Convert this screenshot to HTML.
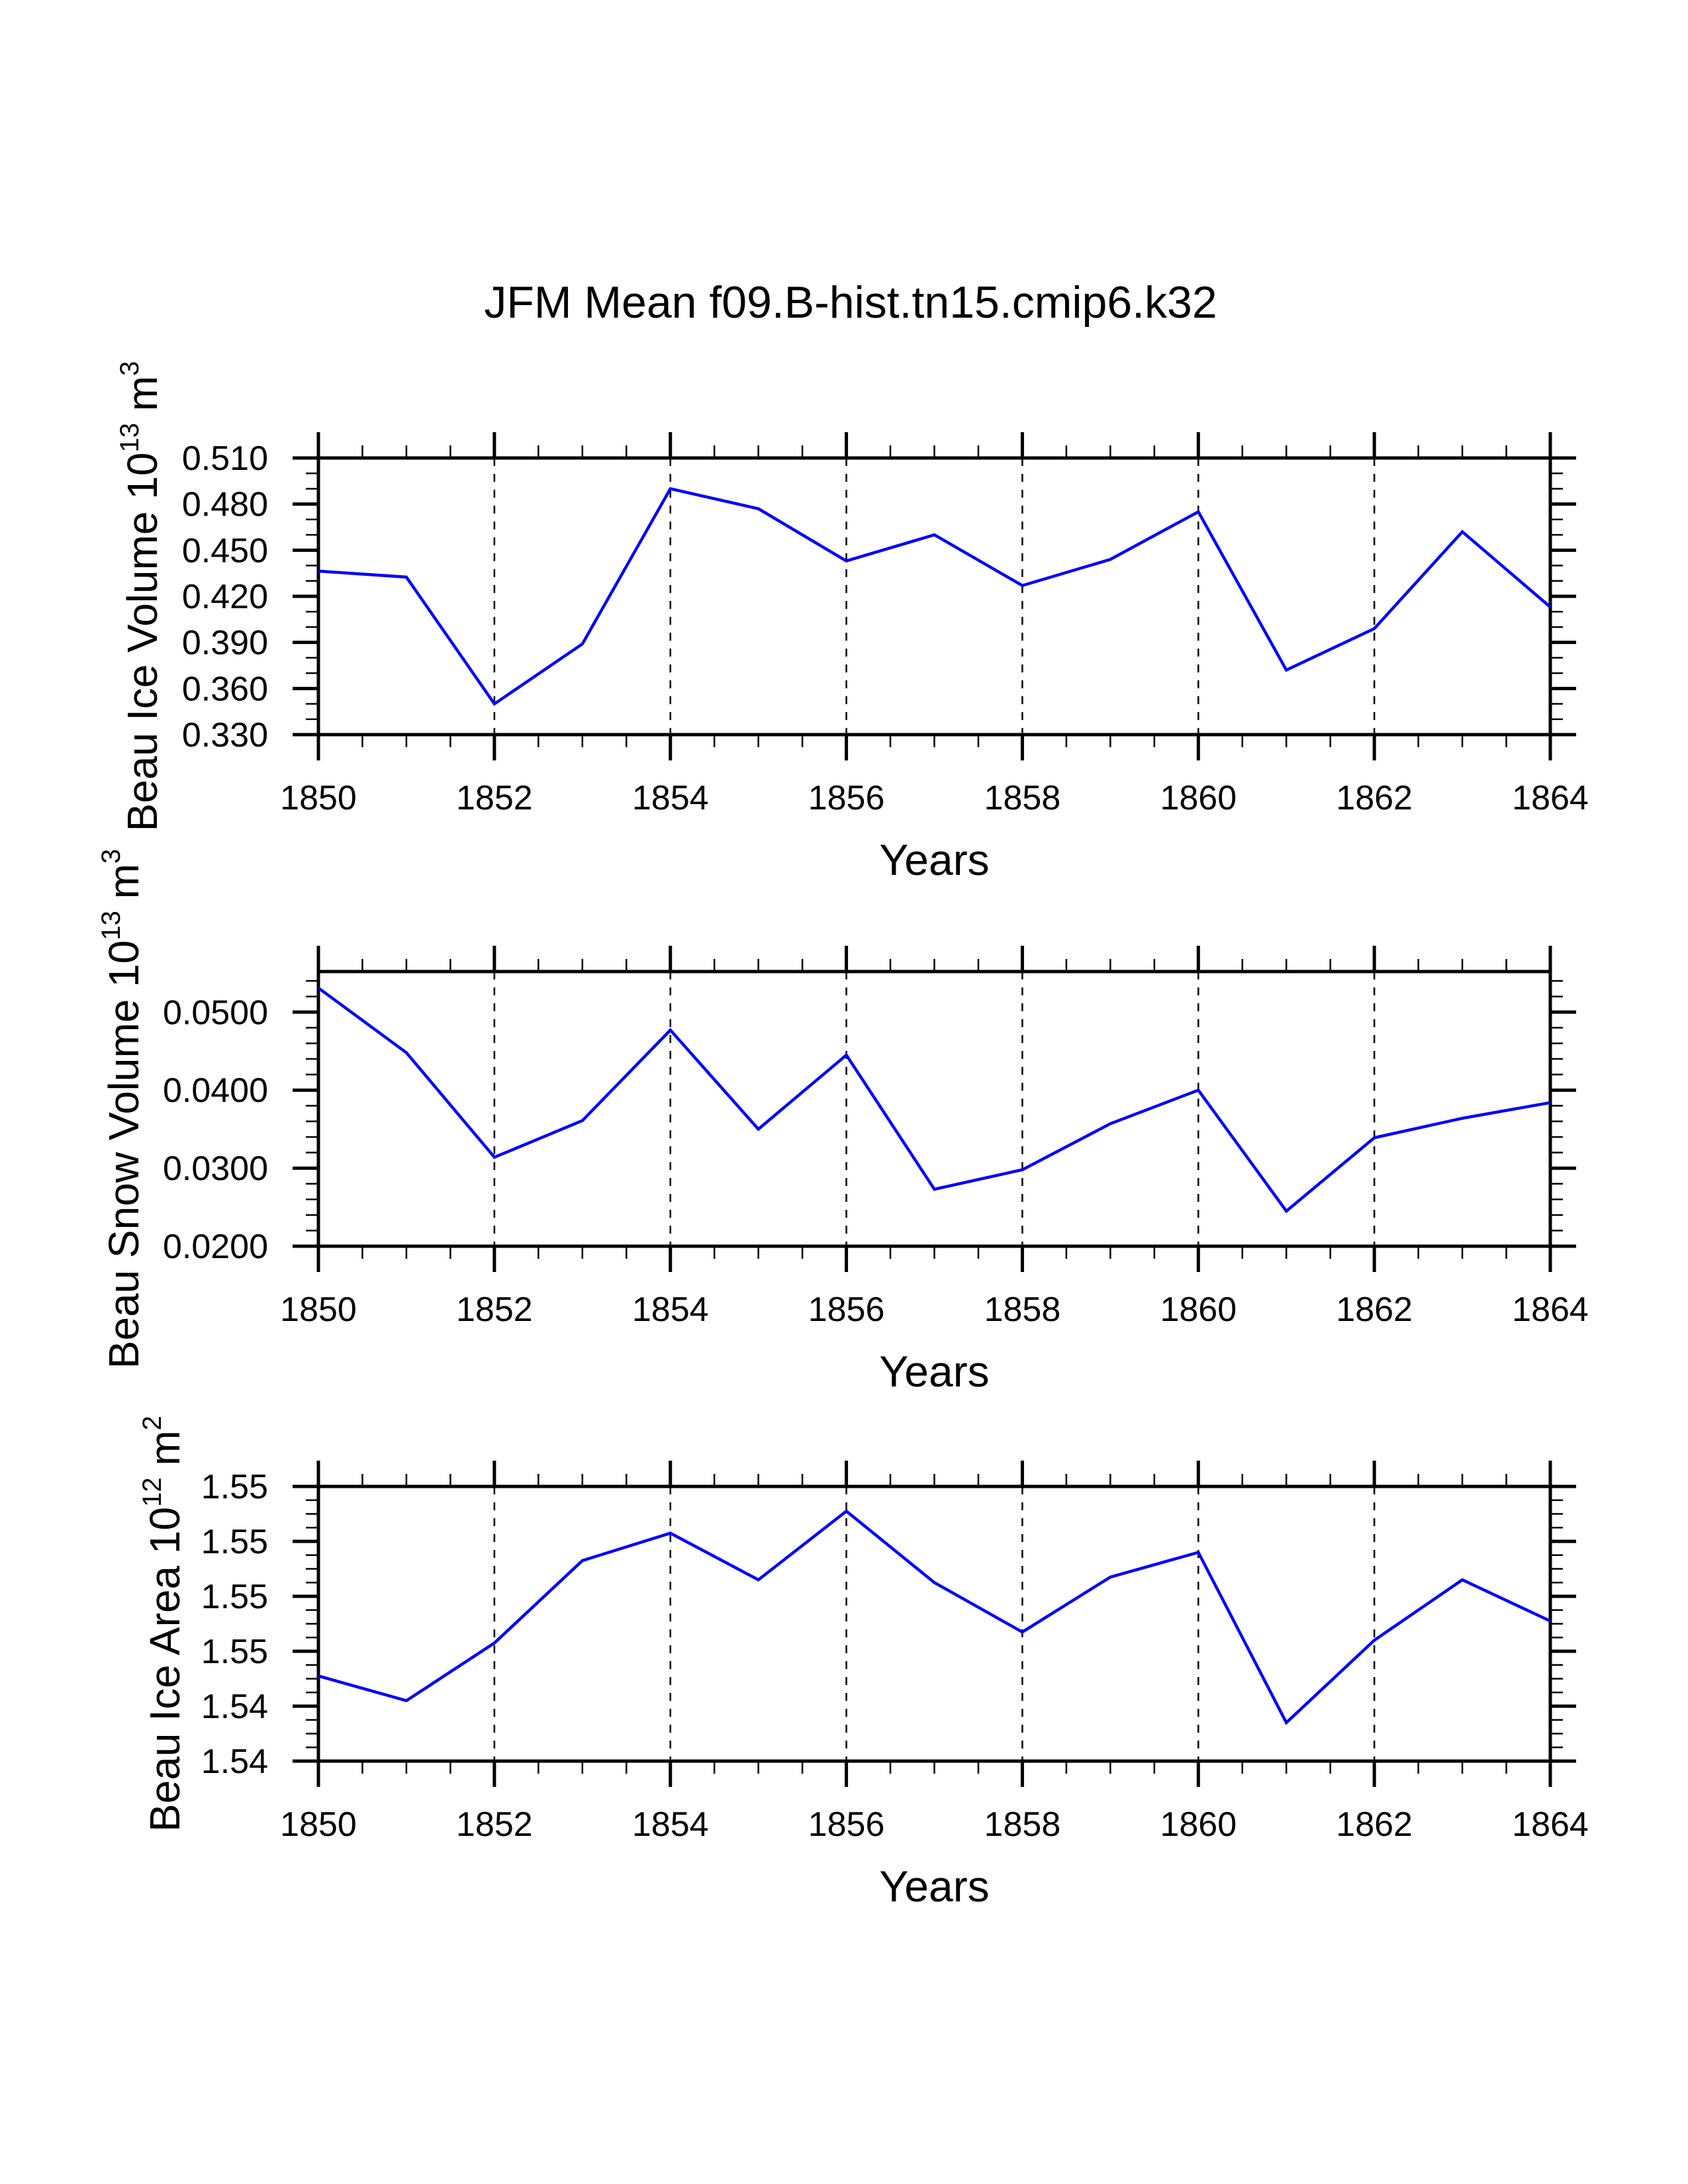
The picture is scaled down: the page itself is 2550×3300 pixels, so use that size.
<!DOCTYPE html>
<html><head><meta charset="utf-8"><style>
html,body{margin:0;padding:0;background:#fff;}
svg{display:block;font-family:"Liberation Sans",Arial,sans-serif;}
</style></head><body>
<svg id="chart" width="2550" height="3300" viewBox="0 0 2550 3300" xmlns="http://www.w3.org/2000/svg">
<rect width="2550" height="3300" fill="#fff"/>
<text x="1285" y="480" font-size="68" text-anchor="middle">JFM Mean f09.B-hist.tn15.cmip6.k32</text>
</svg>
<script>
const years = [1850,1851,1852,1853,1854,1855,1856,1857,1858,1859,1860,1861,1862,1863,1864];
const iceVolume = [0.4364,0.4325,0.350,0.389,0.490,0.477,0.443,0.460,0.427,0.444,0.475,0.372,0.399,0.462,0.413];
const snowVolume = [0.0531,0.0448,0.0314,0.0361,0.0477,0.0350,0.0445,0.0273,0.0298,0.0357,0.0400,0.0245,0.0339,0.0364,0.0384];
const iceArea = [1.5451,1.5442,1.5463,1.5493,1.5503,1.5486,1.5511,1.5485,1.5467,1.5487,1.5496,1.5434,1.5464,1.5486,1.5471];
const xTickYears = [1850,1852,1854,1856,1858,1860,1862,1864];
const iceVolTicks = [0.33,0.36,0.39,0.42,0.45,0.48,0.51];
const iceVolLabels = ["0.330","0.360","0.390","0.420","0.450","0.480","0.510"];
const snowTicks = [0.02,0.03,0.04,0.05];
const snowLabels = ["0.0200","0.0300","0.0400","0.0500"];
const areaTicks = [1.542,1.544,1.546,1.548,1.550,1.552];
const areaLabels = ["1.54","1.54","1.55","1.55","1.55","1.55"];

const NS="http://www.w3.org/2000/svg";
const svg=document.getElementById('chart');
function el(tag,attrs,parent){const e=document.createElementNS(NS,tag);for(const k in attrs)e.setAttribute(k,attrs[k]);(parent||svg).appendChild(e);return e;}

const X0=481,X1=2342,XMIN=1850,XMAX=1864;
function xs(v){return X0+(v-XMIN)/(XMAX-XMIN)*(X1-X0);}

function panel(id,top,bottom,ymin,ymax,ticks,labels,minorStep,data,titleMain,titleExp,titleUnit,titleX){
  const g=el('g',{});
  
  
  const ys=v=>bottom-(v-ymin)/(ymax-ymin)*(bottom-top);
  xTickYears.slice(1,-1).forEach(yr=>{
    const l=el('line',{x1:xs(yr),x2:xs(yr),y1:top,y2:bottom,stroke:'#000','stroke-width':2.5,'stroke-dasharray':'12,12'},g);
    
    
  });
  for(let v=XMIN;v<=XMAX+1e-9;v+=0.5){
    const major=xTickYears.some(t=>Math.abs(t-v)<1e-9);
    const len=major?39:19, w=major?5:2.5;
    el('line',{x1:xs(v),x2:xs(v),y1:top,y2:top-len,stroke:'#000','stroke-width':w},g);
    el('line',{x1:xs(v),x2:xs(v),y1:bottom,y2:bottom+len,stroke:'#000','stroke-width':w},g);
  }
  for(let v=ticks[0]-10*minorStep; v<=ymax+1e-9; v+=minorStep){
    if(v<ymin-1e-9) continue;
    const major=ticks.some(t=>Math.abs(t-v)<1e-9);
    const len=major?39:19, w=major?5:2.5, y=ys(v);
    el('line',{x1:X0,x2:X0-len,y1:y,y2:y,stroke:'#000','stroke-width':w},g);
    el('line',{x1:X1,x2:X1+len,y1:y,y2:y,stroke:'#000','stroke-width':w},g);
  }
  const fr=el('rect',{x:X0,y:top,width:X1-X0,height:bottom-top,fill:'none',stroke:'#000','stroke-width':5},g);
  
  
  ticks.forEach((t,i)=>{
    const tx=el('text',{x:405,y:ys(t)+18,'font-size':52,'text-anchor':'end'},g);
    tx.textContent=labels[i];
    
    
  });
  xTickYears.forEach(t=>{
    const tx=el('text',{x:xs(t),y:bottom+113,'font-size':52,'text-anchor':'middle'},g);
    tx.textContent=String(t);
    
    
  });
  const xt=el('text',{x:(X0+X1)/2,y:bottom+212,'font-size':66,'text-anchor':'middle'},g);
  xt.textContent='Years';
  
  
  const cy=(top+bottom)/2;
  const yt=el('text',{x:titleX,y:cy,'font-size':64,'text-anchor':'middle',transform:'rotate(-90 '+titleX+' '+cy+')'},g);
  
  
  const s1=el('tspan',{},yt); s1.textContent=titleMain;
  const s2=el('tspan',{'font-size':40,dy:-28},yt); s2.textContent=titleExp;
  const s3=el('tspan',{dy:28},yt); s3.textContent=' '+titleUnit;
  const s4=el('tspan',{'font-size':40,dy:-28},yt); s4.textContent=(id==='ice-area'?'2':'3');
  const pts=data.map((v,i)=>xs(years[i])+','+ys(v)).join(' ');
  const pl=el('polyline',{points:pts,fill:'none',stroke:'#0000ff','stroke-width':4.5,'stroke-linejoin':'miter'},g);
  
  
}
panel('ice-volume',692,1110,0.33,0.51,iceVolTicks,iceVolLabels,0.01,iceVolume,'Beau Ice Volume 10','13','m',237);
panel('snow-volume',1468,1883,0.02,0.0552,snowTicks,snowLabels,0.002,snowVolume,'Beau Snow Volume 10','13','m',209);
panel('ice-area',2246,2661,1.542,1.552,areaTicks,areaLabels,0.0005,iceArea,'Beau Ice Area 10','12','m',271);
</script>
</body></html>
